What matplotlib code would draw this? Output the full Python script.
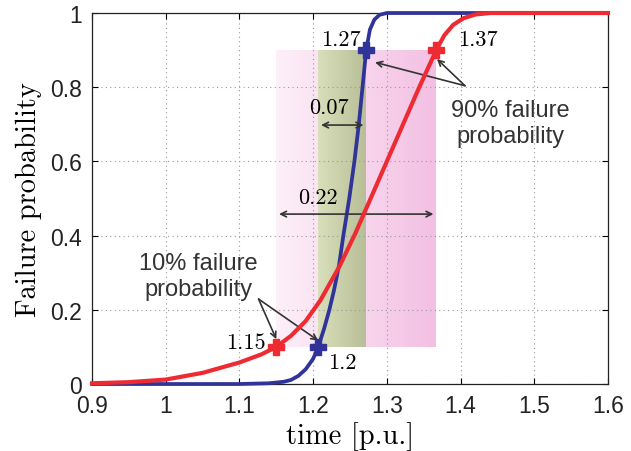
import numpy as np
import matplotlib
matplotlib.use("Agg")
import matplotlib.pyplot as plt
from matplotlib.colors import LinearSegmentedColormap

plt.rcParams["font.family"] = ["Liberation Sans", "DejaVu Sans"]

# curves
red_x = [0.90, 0.95, 1.00, 1.05, 1.10, 1.13, 1.15, 1.17, 1.19, 1.21, 1.236, 1.257, 1.278,
         1.30, 1.322, 1.344, 1.367, 1.378, 1.39, 1.404, 1.42, 1.44, 1.50, 1.60]
red_y = [0.002, 0.005, 0.012, 0.030, 0.058, 0.080, 0.100, 0.130, 0.170, 0.226, 0.318, 0.405, 0.500,
         0.600, 0.700, 0.800, 0.900, 0.940, 0.968, 0.986, 0.996, 1.0, 1.0, 1.0]
blue_x = [0.90, 1.00, 1.10, 1.14, 1.16, 1.17, 1.18, 1.19, 1.20, 1.207, 1.215, 1.222, 1.228,
          1.235, 1.241, 1.249, 1.256, 1.262, 1.267, 1.272, 1.277, 1.283, 1.29, 1.30, 1.32, 1.60]
blue_y = [0.0, 0.0, 0.0, 0.002, 0.006, 0.011, 0.022, 0.040, 0.068, 0.100, 0.150, 0.200, 0.250,
          0.318, 0.400, 0.500, 0.600, 0.700, 0.800, 0.900, 0.955, 0.982, 0.995, 1.0, 1.0, 1.0]

# 10% / 90% points
red_mark_x = [1.15, 1.367]
blue_mark_x = [1.207, 1.272]
mark_y = [0.1, 0.9]
red_labels = ["1.15", "1.37"]
blue_labels = ["1.2", "1.27"]
spread_labels = ["0.07", "0.22"]

xticks = [0.9, 1.0, 1.1, 1.2, 1.3, 1.4, 1.5, 1.6]
xtick_labels = ["0.9", "1", "1.1", "1.2", "1.3", "1.4", "1.5", "1.6"]
yticks = [0, 0.2, 0.4, 0.6, 0.8, 1.0]
ytick_labels = ["0", "0.2", "0.4", "0.6", "0.8", "1"]

red = "#ee2b33"
blue = "#30339a"
arrow_col = "#333333"

fig = plt.figure(figsize=(6.31, 4.52), dpi=100)
ax = fig.add_axes([0.1458, 0.1482, 0.8177, 0.8208])

# shaded bands with a left-to-right gradient
grad = np.linspace(0, 1, 256).reshape(1, -1)
pink = LinearSegmentedColormap.from_list("pink", ["#fdf0f8", "#f3bfe3"])
olive = LinearSegmentedColormap.from_list("olive", ["#d9dfba", "#b8be97"])
ax.imshow(grad, cmap=pink, aspect="auto", zorder=0,
          extent=[red_mark_x[0], red_mark_x[1], mark_y[0], mark_y[1]])
ax.imshow(grad, cmap=olive, aspect="auto", zorder=0.1,
          extent=[blue_mark_x[0], blue_mark_x[1], mark_y[0], mark_y[1]])

ax.plot(blue_x, blue_y, color=blue, lw=2.7, clip_on=False, zorder=3)
ax.plot(red_x, red_y, color=red, lw=3.0, clip_on=False, zorder=4)
ax.plot(blue_mark_x, mark_y, ls="none", marker="P", ms=11, color=blue, zorder=5)
ax.plot(red_mark_x, mark_y, ls="none", marker="P", ms=11, color=red, zorder=5)

ax.set_xlim(0.9, 1.6)
ax.set_ylim(0, 1)
ax.set_xticks(xticks)
ax.set_xticklabels(xtick_labels)
ax.set_yticks(yticks)
ax.set_yticklabels(ytick_labels)
ax.tick_params(direction="in", length=4, top=True, right=True, labelsize=16.5,
               labelcolor="#222222", pad=7)
ax.grid(True, ls=(0, (1, 3)), color="#999999", lw=0.8)
for s in ax.spines.values():
    s.set_linewidth(0.9)
    s.set_color("#222222")

cm = "cmr10"
ax.set_xlabel("time [p.u.]", fontfamily=cm, fontsize=20.5, labelpad=3)
ax.set_ylabel("Failure probability", fontfamily=cm, fontsize=20.5, labelpad=6)

# value labels
ax.text(1.264, 0.93, blue_labels[1], fontfamily=cm, fontsize=16, ha="right", va="center")
ax.text(1.397, 0.93, red_labels[1], fontfamily=cm, fontsize=16, ha="left", va="center")
ax.text(1.135, 0.113, red_labels[0], fontfamily=cm, fontsize=16, ha="right", va="center")
ax.text(1.220, 0.059, blue_labels[0], fontfamily=cm, fontsize=16, ha="left", va="center")
ax.text(1.221, 0.747, spread_labels[0], fontfamily=cm, fontsize=16, ha="center", va="center")
ax.text(1.206, 0.504, spread_labels[1], fontfamily=cm, fontsize=16, ha="center", va="center")

# width arrows
ax.annotate("", xy=(blue_mark_x[0], 0.698), xytext=(blue_mark_x[1], 0.698),
            arrowprops=dict(arrowstyle="<->", color=arrow_col, lw=1.2))
ax.annotate("", xy=(red_mark_x[0], 0.458), xytext=(red_mark_x[1], 0.458),
            arrowprops=dict(arrowstyle="<->", color=arrow_col, lw=1.2))

# pointer texts
ax.text(1.468, 0.703, "90% failure\nprobability", fontsize=17, ha="center", va="center",
        color="#333333")
ax.text(1.044, 0.291, "10% failure\nprobability", fontsize=17, ha="center", va="center",
        color="#333333")
for tip in [(1.284, 0.867), (1.368, 0.876)]:
    ax.annotate("", xy=tip, xytext=(1.406, 0.804),
                arrowprops=dict(arrowstyle="->", color=arrow_col, lw=1.2,
                                shrinkA=0, shrinkB=0))
for tip in [(1.150, 0.121), (1.207, 0.117)]:
    ax.annotate("", xy=tip, xytext=(1.126, 0.229),
                arrowprops=dict(arrowstyle="->", color=arrow_col, lw=1.2,
                                shrinkA=0, shrinkB=0))

fig.savefig("out.png", dpi=100)
